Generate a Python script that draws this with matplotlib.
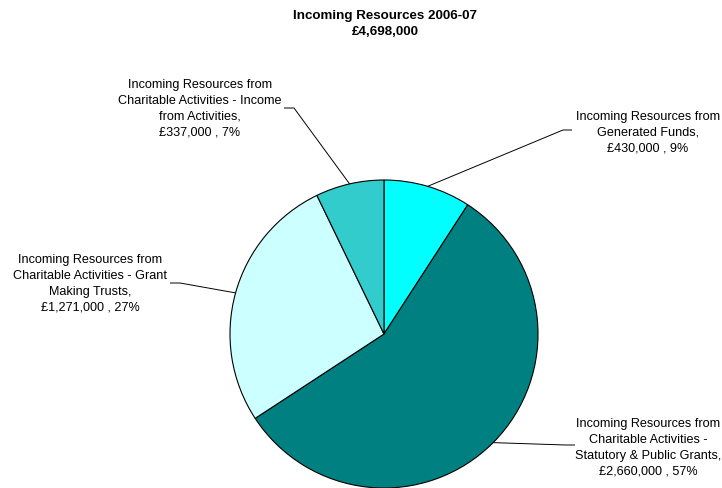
import numpy as np
import matplotlib.pyplot as plt

plt.rcParams['font.family'] = ['Liberation Sans', 'DejaVu Sans']

# Incoming resources 2006-07, clockwise from 12 o'clock
sources = [
    'Incoming Resources from\nGenerated Funds,',
    'Incoming Resources from\nCharitable Activities -\nStatutory & Public Grants,',
    'Incoming Resources from\nCharitable Activities - Grant\nMaking Trusts,',
    'Incoming Resources from\nCharitable Activities - Income\nfrom Activities,',
]
amounts = [430000, 2660000, 1271000, 337000]
colors = ['#00FFFF', '#008080', '#CCFFFF', '#33CCCC']

total = sum(amounts)
W, H = 722, 489

fig = plt.figure(figsize=(W / 100, H / 100), dpi=100)
ax = fig.add_axes([0, 0, 1, 1])

cx, cy, r = 384, H - 335, 154
ax.pie(amounts, colors=colors, startangle=90, counterclock=False,
       center=(cx, cy), radius=r, frame=True,
       wedgeprops=dict(edgecolor='black', linewidth=0.8))
ax.set_xlim(0, W)
ax.set_ylim(0, H)
ax.axis('off')

# label text centre, first line y, and the leader end / elbow (pixel coords from top)
label_pos = [(648, 117), (648, 424), (90, 260), (200, 85)]
leader_ends = [((572, 131), (563, 131)),
               ((575, 446), (566, 446)),
               ((170, 284), (180, 284)),
               ((284, 109), (294, 109))]

cum = 0
for name, amt, (tx, ty), (end, elbow) in zip(sources, amounts, label_pos, leader_ends):
    mid = (cum + amt / 2) / total * 2 * np.pi
    cum += amt
    px = cx + r * np.sin(mid)
    py = cy + r * np.cos(mid)
    ax.plot([px, elbow[0], end[0]], [py, H - elbow[1], H - end[1]],
            color='black', linewidth=0.7, solid_capstyle='butt')
    pct = round(amt / total * 100)
    text = f'{name}\n£{amt:,} , {pct}%'
    ax.text(tx, H - ty + 6, text, ha='center', va='top', fontsize=9.1,
            linespacing=1.42, color='black')

ax.text(385, H - 10, 'Incoming Resources 2006-07\n£4,698,000', ha='center',
        va='top', fontsize=9.6, fontweight='bold', linespacing=1.42)

fig.savefig('out.png', dpi=100)
